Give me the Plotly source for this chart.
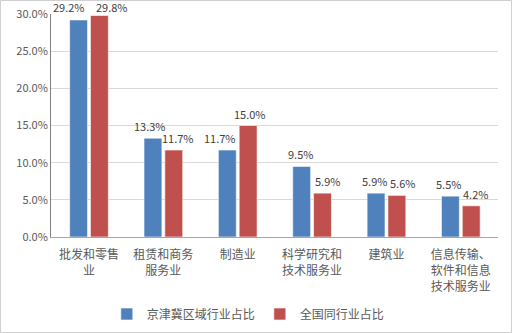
import plotly.graph_objects as go

categories = ["批发和零售<br>业", "租赁和商务<br>服务业", "制造业", "科学研究和<br>技术服务业", "建筑业", "信息传输、<br>软件和信息<br>技术服务业"]
jjj_share = [29.2, 13.3, 11.7, 9.5, 5.9, 5.5]
national_share = [29.8, 11.7, 15.0, 5.9, 5.6, 4.2]
series_names = ["京津冀区域行业占比", "全国同行业占比"]
tick_vals = [0, 5, 10, 15, 20, 25, 30]
tick_text = ["0.0%", "5.0%", "10.0%", "15.0%", "20.0%", "25.0%", "30.0%"]

# label offsets (px) to mimic the reference placement
blue_label_dx = [-20, -13, -18, -12, -12, -12]
red_label_dx = [23, 15, 12, 15, 16, 15]
blue_label_dy = [3, 2, 2, 2, 2, 2]
red_label_dy = [-2, 2, 2, 2, 2, 2]

W, H = 512, 333
ml, mr, mt, mb = 51, 14, 14, 96
font = "Noto Sans CJK SC, Noto Sans, sans-serif"
colors = ["#4F81BD", "#C0504D"]

fig = go.Figure()
for name, vals, col in [(series_names[0], jjj_share, colors[0]), (series_names[1], national_share, colors[1])]:
    fig.add_trace(go.Bar(
        x=categories, y=vals, name=name,
        marker=dict(color=col, line=dict(color="rgba(255,255,255,0.6)", width=1)),
        cliponaxis=False,
    ))

for vals, dxs, dys in [(jjj_share, blue_label_dx, blue_label_dy), (national_share, red_label_dx, red_label_dy)]:
    for cat, v, dx, dy in zip(categories, vals, dxs, dys):
        fig.add_annotation(x=cat, y=v, text=f"{v:.1f}%", showarrow=False,
                           xanchor="center", yanchor="bottom", xshift=dx, yshift=dy,
                           font=dict(size=11, color="#404040", family=font))

pw = W - ml - mr
ph = H - mt - mb
fig.update_layout(
    width=W, height=H,
    margin=dict(l=ml, r=mr, t=mt, b=mb, pad=0, autoexpand=False),
    paper_bgcolor="white", plot_bgcolor="white",
    barmode="group", bargap=0.44, bargroupgap=0.14,
    font=dict(family=font, color="#595959", size=11),
    showlegend=True,
    legend=dict(orientation="h", xref="container", yref="container",
                x=0.485, xanchor="center", y=(H - 314) / H, yanchor="middle",
                font=dict(size=12, color="#595959"), itemwidth=30, traceorder="normal"),
    yaxis=dict(range=[0, 30], tickvals=tick_vals, ticktext=tick_text, automargin=False,
               showgrid=True, gridcolor="#D9D9D9", gridwidth=1,
               showline=True, linecolor="#7F7F7F", linewidth=1,
               ticks="", tickfont=dict(size=11, color="#595959"), zeroline=False),
    xaxis=dict(showline=True, linecolor="#A6A6A6", linewidth=1, ticks="", automargin=False,
               tickfont=dict(size=12, color="#595959"), tickangle=0, ticklabelstandoff=7),
)
fig.add_shape(type="rect", xref="paper", yref="paper",
              x0=(0.5 - ml) / pw, x1=(W - 0.5 - ml) / pw,
              y0=-(mb - 0.5) / ph, y1=1 + (mt - 0.5) / ph,
              line=dict(color="#D0D0D0", width=1), fillcolor="rgba(0,0,0,0)", layer="below")
fig.write_html("out.html")
